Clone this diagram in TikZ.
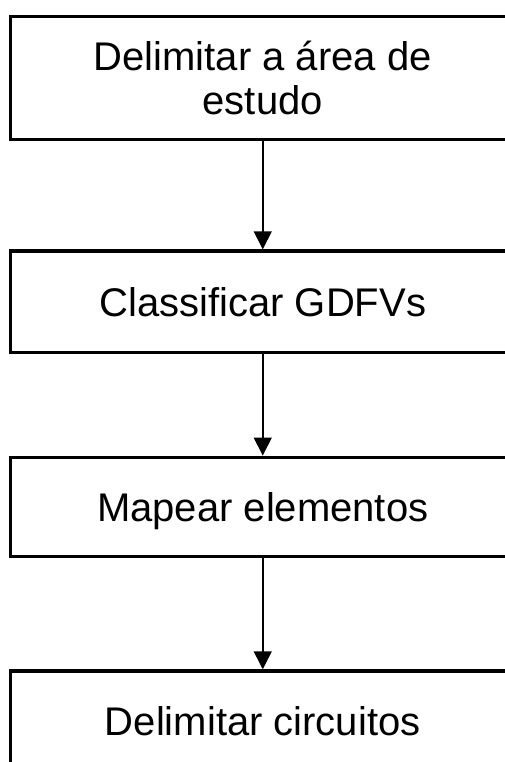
\documentclass[tikz,border=0pt]{standalone}
\usepackage{fontspec}
\setmainfont{Liberation Sans}
\usetikzlibrary{arrows.meta}
\begin{document}
\begin{tikzpicture}[x=1pt,y=-1pt,
  stepbox/.style={draw, line width=3.5pt, rectangle, inner sep=0pt,
    minimum width=504.5pt, font=\fontsize{40}{44}\selectfont,
    text height=28.6pt, text depth=0pt},
  steptext/.style={inner sep=0pt, anchor=base, font=\fontsize{40}{44}\selectfont},
  flow/.style={-{Triangle[length=18pt,width=18pt]}, line width=1.5pt}]
\useasboundingbox (0,0) rectangle (505,762);
\clip (0,0) rectangle (505,762);

% process steps (boxes run past the right edge)
\node[stepbox, minimum height=123pt] (s1) at (262.75,78) {};
\node[steptext] (s1a) at (262.75,70.3) {Delimitar a área de};
\node[steptext] (s1b) at (262.75,114.3) {estudo};
\node[stepbox, minimum height=101.3pt] (s2) at (262.75,301.7) {Classificar GDFVs};
\node[stepbox, minimum height=99.4pt] (s3) at (262.75,507) {Mapear elementos};
\node[stepbox, minimum height=100pt] (s4) at (262.75,721) {Delimitar circuitos};

% connectors
\draw[flow] (s1.south) -- (s2.north);
\draw[flow] (s2.south) -- (s3.north);
\draw[flow] (s3.south) -- (s4.north);
\end{tikzpicture}
\end{document}
